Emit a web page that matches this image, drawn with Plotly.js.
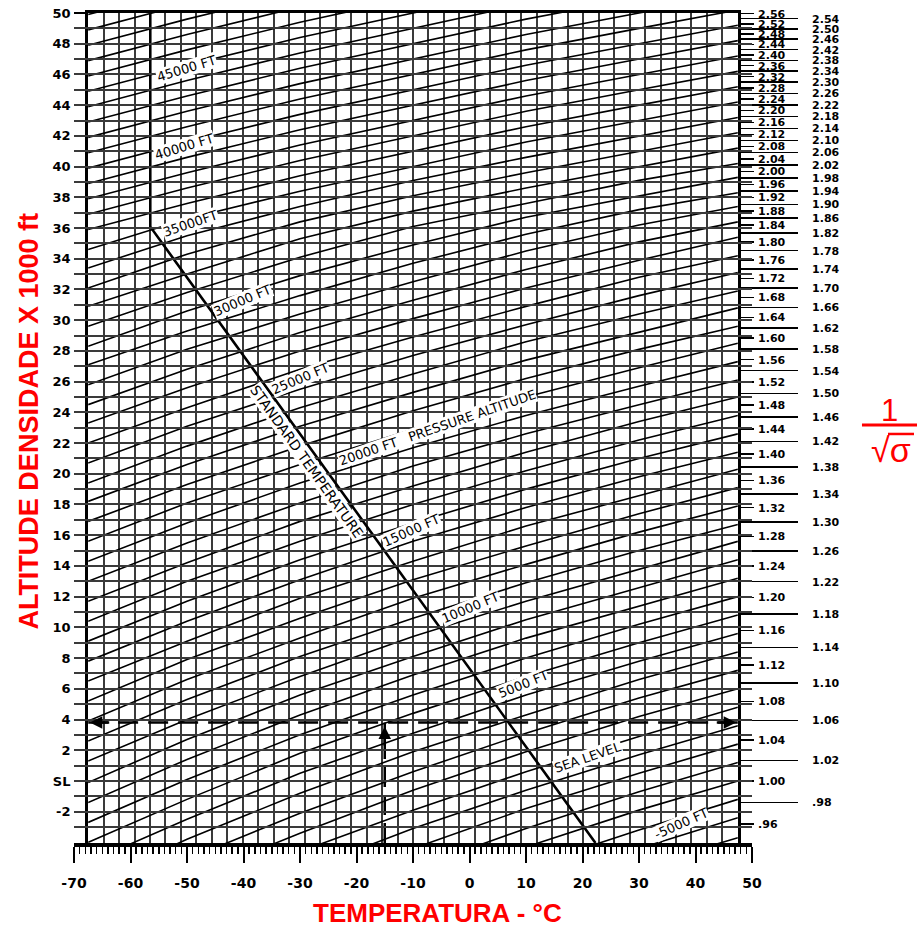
<!DOCTYPE html>
<html><head><meta charset="utf-8">
<script src="https://cdn.plot.ly/plotly-3.0.1.min.js"></script>
<style>html,body{margin:0;padding:0;background:#fff}#chart{width:917px;height:928px}</style>
</head><body><div id="chart"></div>
<script>
// Pressure-altitude lines (kft) and their density altitude (kft) read at each temperature column
const paLevels=[-7,-6,-5,-4,-3,-2,-1,0,1,2,3,4,5,6,7,8,9,10,11,12,13,14,15,16,17,18,19,20,21,22,23,24,25,26,27,28,29,30,31,32,33,34,35,36,37,38,39,40,41,42,43,44,45,46,47,48,49,50,51,52];
const tempPoints=[-67.5,-50,-30,-10,10,30,47.5];
const daAtM67=[-21.4,-20.1,-18.7,-17.4,-16.0,-14.7,-13.3,-12.0,-10.7,-9.3,-8.0,-6.7,-5.3,-4.0,-2.7,-1.4,-0.1,1.3,2.6,3.9,5.2,6.5,7.8,9.1,10.4,11.7,13.0,14.3,15.6,16.9,18.2,19.4,20.7,22.0,23.3,24.5,25.8,27.1,28.3,29.6,30.9,32.1,33.4,34.6,35.9,36.9,37.9,38.9,39.9,40.9,41.9,42.9,43.9,44.9,45.9,46.9,47.9,48.9,49.9,50.9];
const daAtM50=[-18.2,-16.9,-15.6,-14.3,-12.9,-11.6,-10.3,-9.0,-7.7,-6.4,-5.1,-3.8,-2.5,-1.2,0.1,1.4,2.7,4.0,5.3,6.6,7.9,9.1,10.4,11.7,13.0,14.2,15.5,16.8,18.1,19.3,20.6,21.8,23.1,24.3,25.6,26.8,28.1,29.3,30.6,31.8,33.0,34.3,35.5,36.6,37.6,38.6,39.6,40.6,41.6,42.6,43.6,44.6,45.6,46.6,47.6,48.6,49.6,50.6,51.6,52.6];
const daAtM30=[-15.0,-13.7,-12.4,-11.1,-9.8,-8.5,-7.2,-5.9,-4.6,-3.4,-2.1,-0.8,0.5,1.8,3.0,4.3,5.6,6.8,8.1,9.3,10.6,11.9,13.1,14.4,15.6,16.9,18.1,19.4,20.6,21.8,23.1,24.3,25.5,26.8,28.0,29.2,30.4,31.6,32.9,34.1,35.3,36.4,37.4,38.4,39.4,40.4,41.4,42.4,43.4,44.4,45.4,46.4,47.4,48.4,49.4,50.4,51.4,52.4,53.4,54.4];
const daAtM10=[-12.0,-10.7,-9.5,-8.2,-6.9,-5.7,-4.4,-3.1,-1.9,-0.6,0.6,1.9,3.1,4.4,5.6,6.9,8.1,9.4,10.6,11.9,13.1,14.3,15.6,16.8,18.0,19.2,20.5,21.7,22.9,24.1,25.3,26.5,27.7,28.9,30.1,31.3,32.5,33.7,34.9,36.1,37.1,38.1,39.1,40.0,41.0,42.0,43.0,44.0,45.0,46.0,47.0,48.0,49.0,50.0,51.0,52.0,53.0,54.0,55.0,56.0];
const daAtP10=[-9.3,-8.1,-6.8,-5.6,-4.3,-3.1,-1.8,-0.6,0.6,1.9,3.1,4.3,5.6,6.8,8.0,9.3,10.5,11.7,12.9,14.1,15.3,16.6,17.8,19.0,20.2,21.4,22.6,23.8,25.0,26.2,27.4,28.6,29.7,30.9,32.1,33.3,34.5,35.6,36.7,37.6,38.6,39.6,40.6,41.6,42.6,43.6,44.6,45.6,46.6,47.6,48.6,49.6,50.6,51.6,52.6,53.6,54.6,55.6,56.6,57.6];
const daAtP30=[-6.9,-5.6,-4.4,-3.2,-1.9,-0.7,0.5,1.7,2.9,4.2,5.4,6.6,7.8,9.0,10.2,11.4,12.6,13.8,15.0,16.2,17.4,18.6,19.8,21.0,22.2,23.4,24.5,25.7,26.9,28.1,29.2,30.4,31.6,32.8,33.9,35.1,36.2,37.2,38.1,39.1,40.0,41.0,42.0,43.0,44.0,45.0,46.0,47.0,48.0,49.0,50.0,51.0,52.0,53.0,54.0,55.0,56.0,57.0,58.0,59.0];
const daAtP47=[-4.9,-3.7,-2.4,-1.2,0.0,1.2,2.4,3.6,4.8,6.0,7.2,8.4,9.6,10.8,12.0,13.2,14.4,15.6,16.7,17.9,19.1,20.3,21.4,22.6,23.8,25.0,26.1,27.3,28.5,29.6,30.8,31.9,33.1,34.2,35.4,36.4,37.4,38.3,39.3,40.2,41.2,42.2,43.2,44.2,45.2,46.2,47.2,48.2,49.2,50.2,51.2,52.2,53.2,54.2,55.2,56.2,57.2,58.2,59.2,60.2];

// Standard temperature line
const stdTemp=[22.3,-56.5,-56.5];
const stdAlt=[-4.04,36.09,50];
// Worked example (dashed)
const exampleTemp=-15, exampleAlt=3.8;

const leftTickVals=[-2,0,2,4,6,8,10,12,14,16,18,20,22,24,26,28,30,32,34,36,38,40,42,44,46,48,50];
const leftTickText=['-2','SL','2','4','6','8','10','12','14','16','18','20','22','24','26','28','30','32','34','36','38','40','42','44','46','48','50'];
const tempTickVals=[-70,-60,-50,-40,-30,-20,-10,0,10,20,30,40,50];
const tempTickText=['-70','-60','-50','-40','-30','-20','-10','0','10','20','30','40','50'];

const sigShortText=['.96','1.00','1.04','1.08','1.12','1.16','1.20','1.24','1.28','1.32','1.36','1.40','1.44','1.48','1.52','1.56','1.60','1.64','1.68','1.72','1.76','1.80','1.84','1.88','1.92','1.96','2.00','2.04','2.08','2.12','2.16','2.20','2.24','2.28','2.32','2.36','2.40','2.44','2.48','2.52','2.56'];
const sigShortPos=[-2.817,0,2.656,5.167,7.544,9.799,11.943,13.984,15.931,17.791,19.569,21.272,22.905,24.473,25.980,27.430,28.825,30.170,31.469,32.722,33.934,35.105,36.210,37.105,37.981,38.839,39.680,40.504,41.312,42.104,42.882,43.646,44.395,45.132,45.856,46.567,47.266,47.954,48.631,49.297,49.952];
const sigLongText=['.98','1.02','1.06','1.10','1.14','1.18','1.22','1.26','1.30','1.34','1.38','1.42','1.46','1.50','1.54','1.58','1.62','1.66','1.70','1.74','1.78','1.82','1.86','1.90','1.94','1.98','2.02','2.06','2.10','2.14','2.18','2.22','2.26','2.30','2.34','2.38','2.42','2.46','2.50','2.54'];
const sigLongPos=[-1.387,1.347,3.929,6.371,8.686,10.884,12.976,14.970,16.872,18.690,20.430,22.098,23.697,25.234,26.712,28.134,29.504,30.826,32.101,33.333,34.524,35.677,36.660,37.545,38.412,39.261,40.094,40.910,41.710,42.495,43.266,44.022,44.765,45.495,46.213,46.918,47.612,48.294,48.965,49.626];

const lineLabels=['45000 FT','40000 FT','35000FT','30000 FT','25000 FT','20000 FT   PRESSURE ALTITUDE','15000 FT','10000 FT','5000 FT','SEA LEVEL','-5000 FT','STANDARD TEMPERATURE'];
const labelTemp=[-50.1,-50.4,-49.4,-40.2,-29.9,-5.6,-10.3,0.2,9.4,20.9,37.5,-28.9];
const labelAlt=[46.4,41.3,36.3,31.3,26.2,23.0,16.3,11.3,6.3,1.5,-2.8,20.8];
const labelAngle=[-17,-17,-19,-23,-23,-19,-24,-23,-22,-19,-24,54.5];

const xr=[-67.5,47.5], yr=[-4.04,50];
const grid='#3a3a3a';
const gridStep=(xr[1]-xr[0])/42;
const gridVals=[]; for(let k=0;k<=42;k++) gridVals.push(xr[0]+k*gridStep);

const cols=[daAtM67,daAtM50,daAtM30,daAtM10,daAtP10,daAtP30,daAtP47];
const lx=[], ly=[];
paLevels.forEach((p,i)=>{ tempPoints.forEach((t,j)=>{ lx.push(t); ly.push(cols[j][i]); }); lx.push(null); ly.push(null); });

const traces=[
 {x:lx,y:ly,mode:'lines',line:{color:'#000',width:1.6},hoverinfo:'skip',showlegend:false},
 {x:stdTemp,y:stdAlt,mode:'lines',line:{color:'#000',width:2.6},hoverinfo:'skip',showlegend:false},
 {x:[xr[0],xr[1]],y:[exampleAlt,exampleAlt],mode:'lines',line:{color:'#000',width:2.5,dash:'20px,10px'},hoverinfo:'skip',showlegend:false},
 {x:[exampleTemp,exampleTemp],y:[yr[0],exampleAlt],mode:'lines',line:{color:'#000',width:2.5,dash:'20px,8px'},hoverinfo:'skip',showlegend:false},
 {x:[null],y:[null],xaxis:'x2',yaxis:'y',showlegend:false,hoverinfo:'skip'},
 {x:[null],y:[null],xaxis:'x',yaxis:'y2',showlegend:false,hoverinfo:'skip'},
 {x:[null],y:[null],xaxis:'x',yaxis:'y3',showlegend:false,hoverinfo:'skip'}
];
const bold=(s)=>({family:'DejaVu Sans',size:s,color:'#000',weight:'bold'});
const annotations=lineLabels.map((t,i)=>({x:labelTemp[i],y:labelAlt[i],xref:'x',yref:'y',xanchor:'center',yanchor:'middle',text:t,showarrow:false,textangle:labelAngle[i],bgcolor:'#fff',borderpad:0,font:{family:'DejaVu Sans',size:(i===11?14:13),color:'#000'}}));
annotations.push(
 {x:exampleTemp,y:exampleAlt-0.25,ax:exampleTemp,ay:exampleAlt-1.6,xref:'x',yref:'y',axref:'x',ayref:'y',text:'',showarrow:true,arrowhead:2,arrowsize:1,arrowwidth:2.5,arrowcolor:'#000'},
 {x:xr[0]+0.3,y:exampleAlt,ax:xr[0]+4,ay:exampleAlt,xref:'x',yref:'y',axref:'x',ayref:'y',text:'',showarrow:true,arrowhead:2,arrowsize:1,arrowwidth:2.5,arrowcolor:'#000'},
 {x:xr[1]-0.3,y:exampleAlt,ax:xr[1]-4,ay:exampleAlt,xref:'x',yref:'y',axref:'x',ayref:'y',text:'',showarrow:true,arrowhead:2,arrowsize:1,arrowwidth:2.5,arrowcolor:'#000'},
 {xref:'paper',yref:'paper',x:-0.066,y:0.508,xanchor:'center',yanchor:'middle',text:'ALTITUDE DENSIDADE X 1000 ft',textangle:-90,showarrow:false,font:{family:'Liberation Sans',size:27,color:'#ff0000',weight:'bold'}},
 {xref:'paper',yref:'paper',x:0.5354,y:-0.0845,xanchor:'center',yanchor:'middle',text:'TEMPERATURA - °C',showarrow:false,font:{family:'Liberation Sans',size:26,color:'#ff0000',weight:'bold'}},
 {xref:'paper',yref:'paper',x:1.2035,y:0.5205,xanchor:'center',yanchor:'middle',text:'1',showarrow:false,font:{family:'Liberation Sans',size:31,color:'#ff0000'}},
 {xref:'paper',yref:'paper',x:1.2050,y:0.4735,xanchor:'center',yanchor:'middle',text:'√σ',showarrow:false,font:{family:'Liberation Sans',size:34,color:'#ff0000'}}
);
const layout={
 width:917,height:928,margin:{l:74,r:165,t:13,b:85},
 paper_bgcolor:'#fff',plot_bgcolor:'rgba(0,0,0,0)',showlegend:false,
 xaxis:{range:xr,domain:[2.5/120,117.5/120],anchor:'y',tickmode:'array',tickvals:gridVals,showticklabels:false,ticks:'',showgrid:true,gridcolor:grid,gridwidth:2,zeroline:false,showline:true,linecolor:'#000',linewidth:3,mirror:true},
 xaxis2:{range:[-70,50],domain:[0,1],anchor:'y',side:'bottom',showgrid:false,zeroline:false,showline:true,linecolor:'#000',linewidth:4,ticks:'outside',ticklen:16,tickwidth:2,tickcolor:'#000',tickmode:'array',tickvals:tempTickVals,ticktext:tempTickText,tickfont:bold(14),ticklabelstandoff:8,minor:{tickmode:'linear',tick0:0,dtick:1,ticks:'outside',ticklen:7,tickwidth:1.5,tickcolor:'#000',showgrid:false}},
 yaxis:{range:yr,domain:[0,1],anchor:'x',tickmode:'array',tickvals:leftTickVals,ticktext:leftTickText,ticks:'outside',ticklen:11,tickwidth:2,tickcolor:'#000',tickfont:bold(13),ticklabelstandoff:1,showgrid:true,gridcolor:grid,gridwidth:2,minor:{tickmode:'linear',tick0:0,dtick:1,showgrid:true,gridcolor:grid,gridwidth:2,ticks:''},zeroline:false,showline:true,linecolor:'#000',linewidth:3,mirror:true},
 yaxis2:{range:yr,overlaying:'y',anchor:'x',side:'right',tickmode:'array',tickvals:sigShortPos,ticktext:sigShortText,ticks:'outside',ticklen:13,tickwidth:1.5,tickcolor:'#000',tickfont:bold(11),ticklabelstandoff:2,showgrid:false,zeroline:false,showline:true,linecolor:'#000',linewidth:3},
 yaxis3:{range:yr,overlaying:'y',anchor:'x',side:'right',tickmode:'array',tickvals:sigLongPos,ticktext:sigLongText,ticks:'outside',ticklen:59,tickwidth:1.5,tickcolor:'#000',tickfont:bold(11),ticklabelstandoff:12,showgrid:false,zeroline:false,showline:false},
 shapes:[
  {type:'line',xref:'paper',yref:'paper',x0:1.1622,x1:1.2434,y0:0.5036,y1:0.5036,line:{color:'#ff0000',width:3}},
  {type:'line',xref:'paper',yref:'paper',x0:1.2006,x1:1.2389,y0:0.4928,y1:0.4928,line:{color:'#ff0000',width:2.5}}
 ],
 annotations:annotations
};
Plotly.newPlot('chart',traces,layout,{staticPlot:true});
</script></body></html>
